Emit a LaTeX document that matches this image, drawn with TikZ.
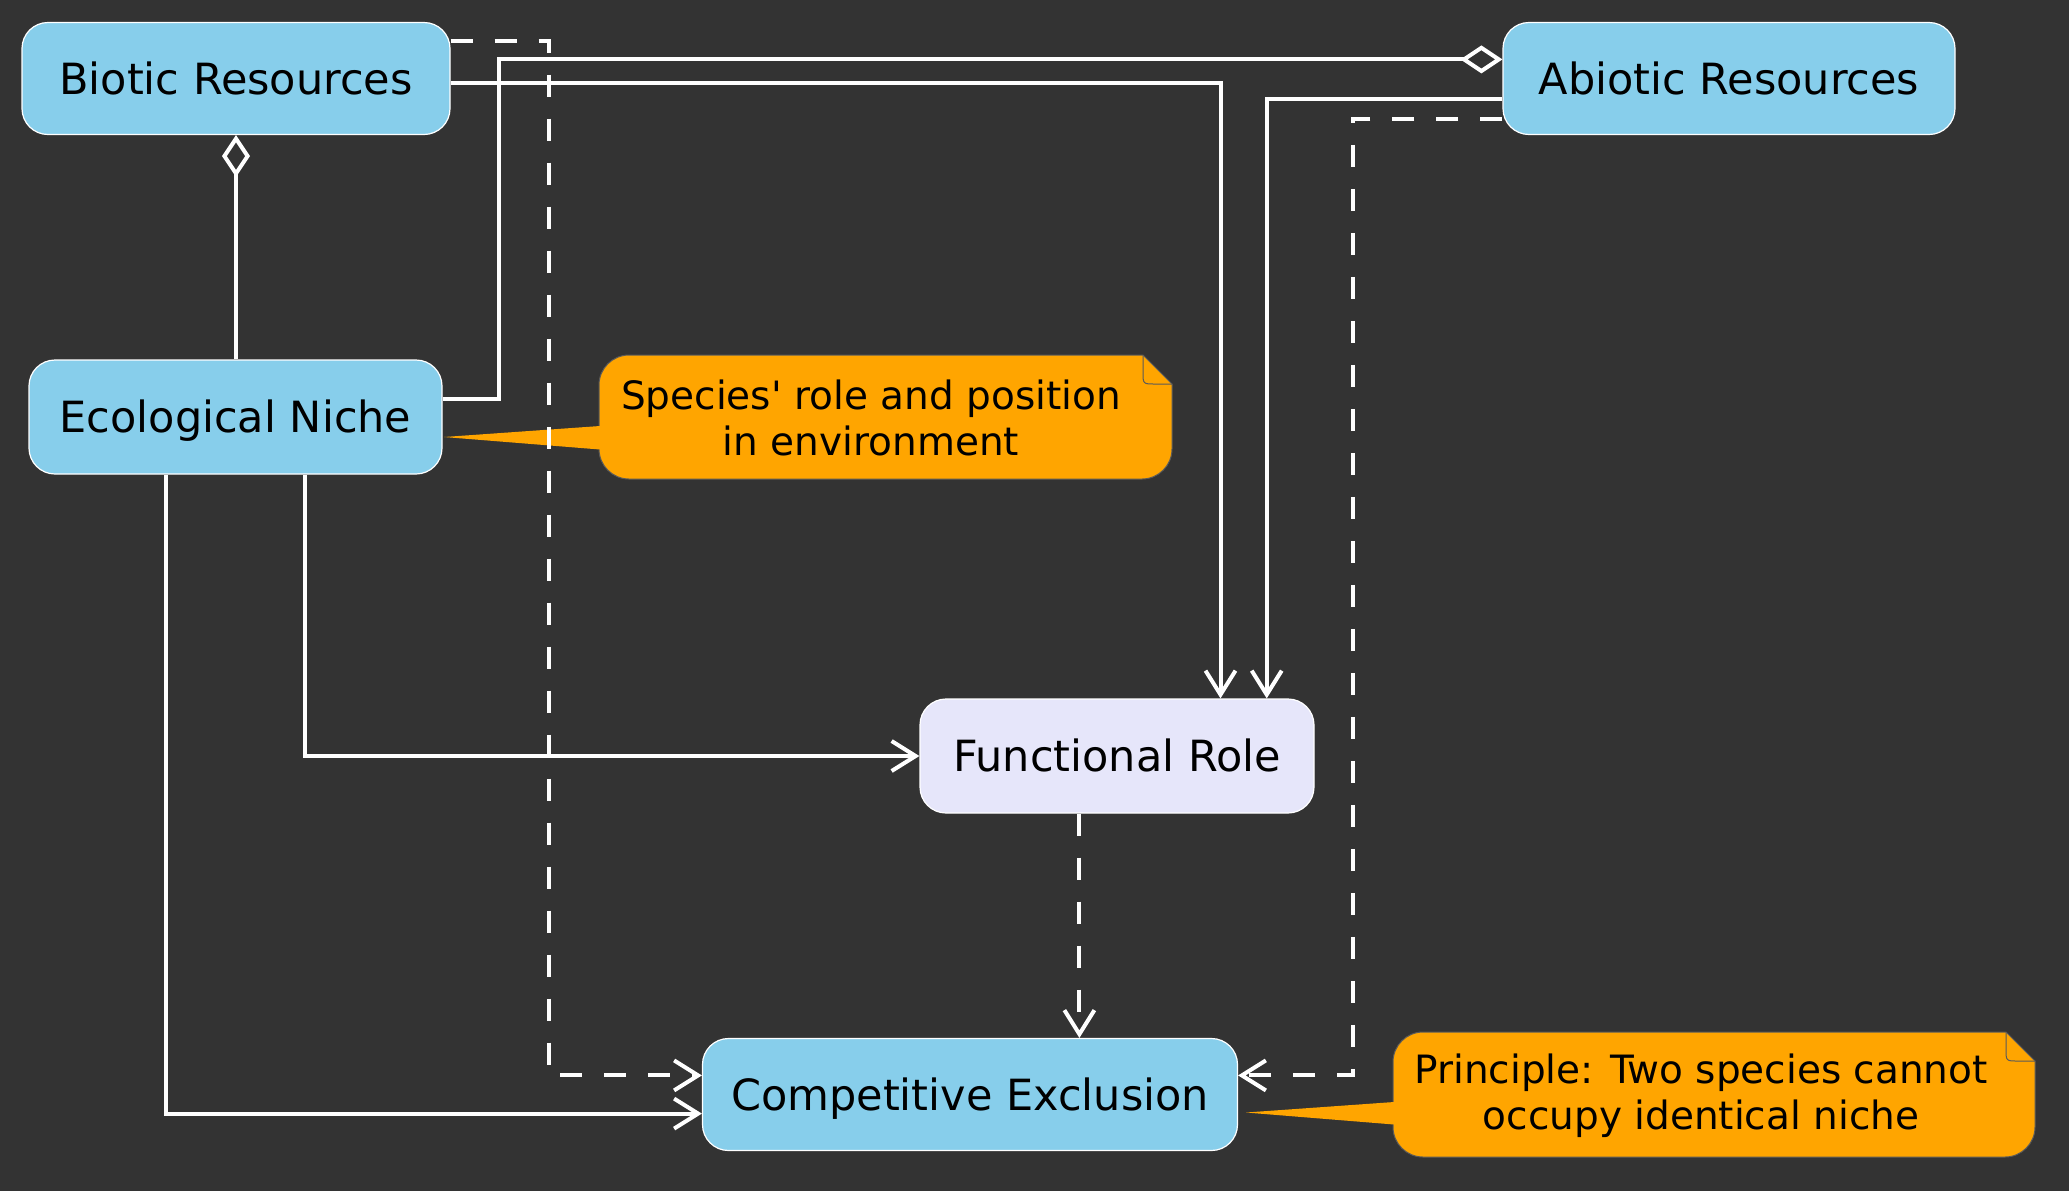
\documentclass[tikz,border=0pt]{standalone}
\usepackage{fontspec}
\setmainfont{DejaVu Sans}
\usetikzlibrary{arrows.meta}
\definecolor{bg}{HTML}{333333}
\definecolor{sky}{HTML}{87CEEB}
\definecolor{lav}{HTML}{E6E6FA}
\definecolor{noteor}{HTML}{FFA500}
\definecolor{noteline}{HTML}{5A5A5A}
\newcommand\notebox[4]{%
  \filldraw[notebg] ({#1+30},#2) -- ({#3-29},#2) -- (#3,{#2+29}) -- (#3,{#4-30})
    .. controls (#3,{#4-13.5}) and ({#3-13.5},#4) .. ({#3-30},#4) -- ({#1+30},#4)
    .. controls ({#1+13.5},#4) and (#1,{#4-13.5}) .. (#1,{#4-30}) -- (#1,{#2+30})
    .. controls (#1,{#2+13.5}) and ({#1+13.5},#2) .. ({#1+30},#2) -- cycle;
  \draw[notebg, fill=none] ({#3-29},#2) -- ({#3-29},{#2+17})
    .. controls ({#3-29},{#2+29}) .. ({#3-17},{#2+29}) -- (#3,{#2+29});
}
\begin{document}
\begin{tikzpicture}[x=0.5pt,y=-0.5pt,
  box/.style={draw=white, line width=0.6pt, rounded corners=13pt, fill=sky,
    inner sep=0pt, text=black, text height=15.7pt, text depth=0pt,
    font=\fontsize{21.5}{26}\selectfont},
  notebg/.style={draw=noteline, line width=0.5pt, fill=noteor},
  notetext/.style={align=center, text=black, inner sep=0pt,
    font=\fontsize{19.5}{23}\selectfont},
  conn/.style={draw=white, line width=2pt},
  arr/.style={conn, -{Straight Barb[length=12pt,width=15pt]}},
  dasharr/.style={arr, dash pattern=on 11pt off 11pt},
  agg/.style={conn, -{Diamond[open,length=21pt,width=14pt]}}]
\fill[bg] (0,0) rectangle (2069,1191);
\useasboundingbox (0,0) rectangle (2069,1191);

% notes
\notebox{599}{355}{1172}{479}
\fill[noteor] (600,426) -- (444,437) -- (600,449.5) -- cycle;
\node[notetext] (n1) at (871,417.6) {Species\textquotesingle{} role and position\\in environment};

\notebox{1393}{1032}{2035}{1157}
\fill[noteor] (1394,1102) -- (1246,1112.5) -- (1394,1124.5) -- cycle;
\node[notetext] (n2) at (1701,1095.3) {Principle: Two species cannot\\occupy identical niche};

% nodes
\node[box, minimum width=214pt, minimum height=56pt] (bio) at (236,78.5) {Biotic Resources};
\node[box, minimum width=226pt, minimum height=56pt] (abio) at (1729,78.5) {Abiotic Resources};
\node[box, minimum width=206.5pt, minimum height=57pt] (eco) at (235.5,417) {Ecological Niche};
\node[box, fill=lav, minimum width=197pt, minimum height=57pt] (func) at (1117,756) {Functional Role};
\node[box, minimum width=267.5pt, minimum height=56pt] (comp) at (970,1094.5) {Competitive Exclusion};

% connectors
\draw[agg] (eco.north -| bio.south) -- (bio.south);
\draw[agg] (eco.east |- 0,398.5) -- (498.8,398.5) -- (498.8,59.4) -- (abio.west |- 0,59.4);
\draw[arr] (bio.east |- 0,83.1) -- (1220.5,83.1) -- (func.north -| 1220.5,0);
\draw[dasharr] (bio.east |- 0,40.9) -- (548.9,40.9) -- (548.9,1075.4) -- (comp.west |- 0,1075.4);
\draw[arr] (abio.west |- 0,99) -- (1266.7,99) -- (func.north -| 1266.7,0);
\draw[dasharr] (abio.west |- 0,118.8) -- (1352.5,118.8) -- (1352.5,1075.4) -- (comp.east |- 0,1075.4);
\draw[arr] (eco.south -| 304.8,0) -- (304.8,756) -- (func.west |- 0,756);
\draw[arr] (eco.south -| 166.3,0) -- (166.3,1113.6) -- (comp.west |- 0,1113.6);
\draw[dasharr] (func.south -| 1079.4,0) -- (comp.north -| 1079.4,0);
\end{tikzpicture}
\end{document}
